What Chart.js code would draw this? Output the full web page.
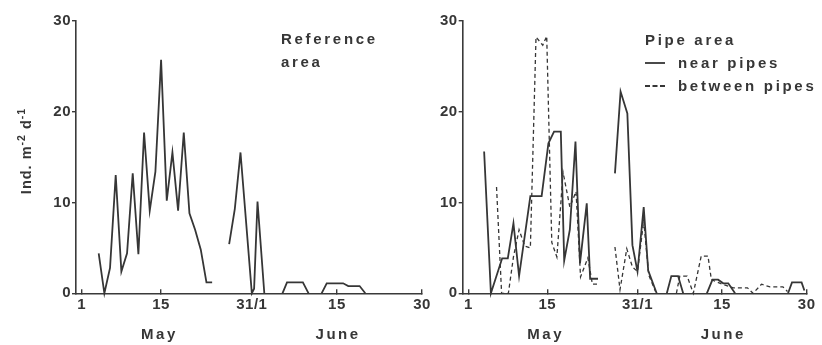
<!DOCTYPE html>
<html><head><meta charset="utf-8">
<script src="https://cdn.jsdelivr.net/npm/chart.js@4.4.1/dist/chart.umd.min.js"></script>
<style>
html,body{margin:0;padding:0;background:#fff;}
#wrap{position:relative;width:822px;height:345px;overflow:hidden;background:#fff;}
.box{position:absolute;top:0;}
</style></head><body>
<div id="wrap">
<div class="box" style="left:0;width:440px;height:345px"><canvas id="c1" width="440" height="345"></canvas></div>
<div class="box" style="left:430px;width:392px;height:345px"><canvas id="c2" width="392" height="345"></canvas></div>
</div>
<script>
// ---- data (x = day index: May d -> d, June d -> 31 + d) ----
const tickDays   = [1, 15, 31, 46, 61];
const tickLabels = ["1", "15", "31/1", "15", "30"];
const monthNames = ["May", "June"];
const monthDays  = [14.5, 46];

const refDays   = [4, 5, 6, 7, 8, 9, 10, 11, 12, 13, 14, 15, 16, 17, 18, 19, 20, 21, 22, 23, 24, 25, 27, 28, 29, 31, 31.4, 32, 33.2, 34, 36.4, 37.2, 40, 41, 42, 43.3, 44.2, 47.1, 48, 50, 51];
const refValues = [4.4, 0, 2.8, 13.0, 2.4, 4.4, 13.2, 4.3, 17.7, 9.1, 13.4, 25.7, 10.2, 15.5, 9.1, 17.7, 8.8, 7.0, 4.8, 1.2, 1.2, null, 5.4, 9.3, 15.5, 0, 0.5, 10.1, 0, null, 0, 1.2, 1.2, 0, null, 0, 1.1, 1.1, 0.8, 0.8, 0];

const nearDays   = [3.8, 5, 7, 8, 9, 10, 12, 14, 15.2, 16.2, 17.4, 18, 19, 20, 20.8, 22, 22.6, 24, 25, 27, 28, 29.2, 30.1, 31, 32.1, 32.9, 34.4, 35, 36.2, 37, 38.2, 39.1, 40, 43.3, 44.3, 45.3, 46.2, 47.1, 48.3, 50, 57.7, 58.4, 60.1, 60.6];
const nearValues = [15.6, 0, 3.85, 3.85, 7.7, 1.9, 10.7, 10.7, 16.5, 17.8, 17.8, 3.6, 7.0, 16.7, 3.3, 9.9, 1.6, 1.6, null, 13.2, 22.2, 19.8, 5.3, 2.4, 9.5, 2.5, 0, null, 0, 1.9, 1.9, 0, null, 0, 1.5, 1.5, 1.1, 1.1, 0, null, 0, 1.2, 1.2, 0.3];

const betweenDays   = [6, 6.9, 8.1, 9, 10, 11, 12, 13, 14.2, 14.9, 15.8, 16.7, 17.8, 19, 20.1, 20.9, 22.2, 23, 24, 25, 27, 27.9, 29.1, 30.1, 31, 32.1, 33, 34.2, 35, 37.9, 38.5, 39.8, 40.9, 42.3, 43.5, 44.1, 46, 48, 50.5, 51.5, 53, 54.5, 56.8, 57.6];
const betweenValues = [11.7, 0, 0, 4.0, 7.0, 5.2, 5.0, 28.2, 27.3, 28.3, 5.6, 4.0, 13.3, 9.5, 11.2, 1.8, 3.9, 1.0, 1.0, null, 5.1, 0.4, 4.9, 2.9, 2.4, 8.0, 2.0, 0.2, null, 0, 1.9, 1.9, 0, 4.1, 4.1, 1.5, 1.0, 0.6, 0.6, 0, 1.0, 0.7, 0.7, 0.2];

const yTicks = [0, 10, 20, 30];

// ---- styling ----
const FONT = "'Liberation Sans', Arial, Helvetica, sans-serif";
const INK = '#363636';
const AXIS = '#3a3a3a';
const TXT = {family: FONT, size: 15, weight: 'bold'};

function pts(xs, ys) { return xs.map((x, i) => ({x: x, y: ys[i]})); }

function xScale() {
  return {
    type: 'linear', min: 0, max: 61,
    afterBuildTicks: s => { s.ticks = tickDays.map(v => ({value: v})); },
    afterFit: s => { s.height = 51.7; },
    ticks: {
      autoSkip: false, maxRotation: 0, padding: 7, color: INK, font: TXT,
      callback: v => { const i = tickDays.indexOf(v); return i >= 0 ? tickLabels[i] : ''; }
    },
    grid: {display: true, drawOnChartArea: false, drawTicks: true, tickLength: -4, color: AXIS, lineWidth: 1.4},
    border: {display: true, color: AXIS, width: 1.6}
  };
}
function yScale(w) {
  return {
    type: 'linear', min: 0, max: 30,
    afterBuildTicks: s => { s.ticks = yTicks.map(v => ({value: v})); },
    afterFit: s => { s.width = w; },
    ticks: {padding: 1, color: INK, font: TXT},
    grid: {display: true, drawOnChartArea: false, drawTicks: true, tickLength: 4, color: AXIS, lineWidth: 1.4},
    border: {display: true, color: AXIS, width: 1.6}
  };
}

function spacedText(ctx, txt, x, y, spacing) {
  ctx.letterSpacing = spacing + 'px';
  ctx.fillText(txt, x, y);
  ctx.letterSpacing = '0px';
}

const tickSpacing = {
  id: 'tickSpacing',
  beforeDraw(chart) { chart.ctx.letterSpacing = '0.5px'; },
  afterDraw(chart) { chart.ctx.letterSpacing = '0px'; }
};

function monthLabels(chart) {
  const ctx = chart.ctx, sx = chart.scales.x;
  ctx.save();
  ctx.fillStyle = INK;
  ctx.font = 'bold 15px ' + FONT;
  ctx.textAlign = 'center';
  ctx.textBaseline = 'alphabetic';
  monthNames.forEach((m, i) => {
    ctx.letterSpacing = '2.5px';
    ctx.fillText(m, sx.getPixelForValue(monthDays[i]) + 1.2, 339);
  });
  ctx.restore();
}

const leftText = {
  id: 'leftText',
  afterDraw(chart) {
    const ctx = chart.ctx;
    monthLabels(chart);
    ctx.save();
    ctx.fillStyle = INK;
    ctx.font = 'bold 15px ' + FONT;
    ctx.textAlign = 'left';
    ctx.textBaseline = 'alphabetic';
    spacedText(ctx, 'Reference', 281, 44, 2.7);
    spacedText(ctx, 'area', 281, 67, 2.7);
    // y axis title
    ctx.translate(31, 151);
    ctx.rotate(-Math.PI / 2);
    const parts = [['Ind. m', 14.5, 0], ['-2', 10.5, -6.5], [' d', 14.5, 0], ['-1', 10.5, -6.5]];
    let total = 0;
    parts.forEach(p => { ctx.font = 'bold ' + p[1] + 'px ' + FONT; ctx.letterSpacing = '1px'; total += ctx.measureText(p[0]).width; });
    let x = -total / 2;
    parts.forEach(p => {
      ctx.font = 'bold ' + p[1] + 'px ' + FONT; ctx.letterSpacing = '1px';
      ctx.fillText(p[0], x, p[2]);
      x += ctx.measureText(p[0]).width;
    });
    ctx.restore();
  }
};

const rightText = {
  id: 'rightText',
  afterDraw(chart) {
    const ctx = chart.ctx;
    monthLabels(chart);
    const ox = 430;
    ctx.save();
    ctx.fillStyle = INK;
    ctx.font = 'bold 15px ' + FONT;
    ctx.textAlign = 'left';
    ctx.textBaseline = 'alphabetic';
    spacedText(ctx, 'Pipe area', 645 - ox, 45, 2.7);
    spacedText(ctx, 'near pipes', 678 - ox, 68, 2.7);
    spacedText(ctx, 'between pipes', 678 - ox, 91, 2.7);
    ctx.strokeStyle = INK;
    ctx.lineWidth = 1.8;
    ctx.beginPath(); ctx.moveTo(645 - ox, 63); ctx.lineTo(665 - ox, 63); ctx.stroke();
    ctx.setLineDash([5, 2.5]);
    ctx.beginPath(); ctx.moveTo(645 - ox, 86); ctx.lineTo(666 - ox, 86); ctx.stroke();
    ctx.restore();
  }
};

const common = {
  responsive: false, animation: false,
  plugins: {legend: {display: false}, tooltip: {enabled: false}},
  elements: {point: {radius: 0}, line: {tension: 0}}
};

new Chart(document.getElementById('c1'), {
  type: 'line',
  data: {datasets: [{
    label: 'Reference area', data: pts(refDays, refValues),
    borderColor: INK, borderWidth: 1.8, spanGaps: false, fill: false, clip: false
  }]},
  options: Object.assign({}, common, {
    layout: {padding: {left: 26, right: 18, top: 20.7, bottom: 0}},
    scales: {x: xScale(), y: yScale(50)}
  }),
  plugins: [tickSpacing, leftText]
});

new Chart(document.getElementById('c2'), {
  type: 'line',
  data: {datasets: [
    {label: 'near pipes', data: pts(nearDays, nearValues),
     borderColor: INK, borderWidth: 1.8, spanGaps: false, fill: false, clip: false},
    {label: 'between pipes', data: pts(betweenDays, betweenValues),
     borderColor: INK, borderWidth: 1.3, borderDash: [4, 3], spanGaps: false, fill: false, clip: false}
  ]},
  options: Object.assign({}, common, {
    layout: {padding: {left: 2.7, right: 15.3, top: 20.7, bottom: 0}},
    scales: {x: xScale(), y: yScale(30)}
  }),
  plugins: [tickSpacing, rightText]
});
</script>
</body></html>
